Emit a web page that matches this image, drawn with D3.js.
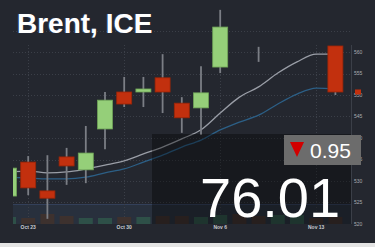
<!doctype html>
<html>
<head>
<meta charset="utf-8">
<script src="https://d3js.org/d3.v7.min.js"></script>
<style>
  body { margin: 0; background: #24272f; }
  svg { display: block; }
</style>
</head>
<body>
<svg id="chart" width="375" height="247"></svg>
<script>

// trading days shown (Oct 20 .. Nov 14)
var dates = ["10-20","10-23","10-24","10-25","10-26","10-27","10-30","10-31","11-01","11-02",
             "11-03","11-06","11-07","11-08","11-09","11-10","11-13","11-14"];
var tickDates = ["10-23","10-30","11-06","11-13"];
var tickNames = ["Oct 23","Oct 30","Nov 6","Nov 13"];

// candles, null = not drawn in the picture
var openV  = [526.5,534.4,527.7,535.6,532.6,542.1,550.7,550.7,554.0,548.1,547.0,556.5,null,559.3,null,null,null,561.4];
var highV  = [533.0,535.8,536.0,537.7,542.8,550.7,554.2,554.2,559.5,549.5,556.7,569.8,null,561.2,null,null,null,561.4];
var lowV   = [526.5,526.7,521.2,529.1,529.5,537.4,547.2,547.2,545.8,541.2,540.7,555.1,null,557.7,null,null,null,550.0];
var closeV = [533.0,528.4,526.0,533.5,536.5,548.8,547.9,551.4,550.7,544.7,550.5,565.8,null,559.3,null,null,null,550.7];

// two moving averages
var maSlow = [532.1,532.3,531.9,532.1,532.8,533.7,534.7,536.3,537.9,539.8,541.9,545.8,549.5,551.9,555.1,557.7,559.5,559.5];
var maFast = [530.9,530.7,530.5,530.5,530.9,531.9,532.8,534.4,536.0,537.9,539.5,541.9,543.7,545.3,547.9,550.2,551.6,551.4];

// volume and its up/down flag
var volume = [7,6,10,8,6,6,7,7,8,8,7,9,10,8,9,9,6,7];
var volUp  = [1,0,0,0,1,1,0,1,0,0,1,1,0,0,1,1,0,0];

var yTicks = [520,525,530,535,540,545,550,555,560,565];
var yLabels = ["520","525","530","535","540","545","550","555","560"];

var title = "Brent, ICE";
var lastPrice = "76.01";
var change = "0.95";

var svg = d3.select("#chart");
var W = 375, H = 247;
var pLeft = 13, pRight = 351, pTop = 0, pBottom = 224;

svg.append("rect").attr("width", W).attr("height", H).attr("fill", "#24272f");

var x = d3.scalePoint().domain(dates).range([9, 335.4]);
var y = d3.scaleLinear().domain([520, 565]).range([224, 30.5]);
var yv = d3.scaleLinear().domain([0, 12]).range([224, 212]);
var bodyW = 15;

svg.append("clipPath").attr("id", "plot")
   .append("rect").attr("x", pLeft).attr("y", pTop).attr("width", pRight - pLeft).attr("height", pBottom - pTop);

// volume pane band
svg.append("rect").attr("x", pLeft).attr("y", 204).attr("width", pRight - pLeft).attr("height", 20)
   .attr("fill", "#28303d");
svg.append("line").attr("x1", pLeft).attr("x2", pRight).attr("y1", 204.5).attr("y2", 204.5)
   .attr("stroke", "#33405a").attr("stroke-width", 1);

// grid
var grid = svg.append("g").attr("stroke", "#3b3f48").attr("stroke-width", 1).attr("stroke-dasharray", "1,2");
grid.selectAll(".hg").data(yTicks.slice(1)).enter().append("line")
    .attr("x1", pLeft).attr("x2", pRight)
    .attr("y1", function(d) { return Math.round(y(d)) + 0.5; })
    .attr("y2", function(d) { return Math.round(y(d)) + 0.5; });
grid.selectAll(".vg").data(tickDates).enter().append("line")
    .attr("x1", function(d) { return Math.round(x(d)) + 0.5; })
    .attr("x2", function(d) { return Math.round(x(d)) + 0.5; })
    .attr("y1", 45).attr("y2", pBottom);

var plot = svg.append("g").attr("clip-path", "url(#plot)");

// volume bars
plot.selectAll(".vol").data(dates).enter().append("rect")
    .attr("x", function(d) { return x(d) - bodyW / 2 + 0.5; })
    .attr("width", bodyW - 1)
    .attr("y", function(d, i) { return yv(volume[i]); })
    .attr("height", function(d, i) { return yv(0) - yv(volume[i]); })
    .attr("fill", function(d, i) { return volUp[i] ? "#2e5048" : "#3d312e"; });

// moving averages
var lineGen = function(vals) {
  return d3.line()
    .x(function(d, i) { return x(dates[i]); })
    .y(function(d) { return y(d); })
    .curve(d3.curveMonotoneX)(vals);
};
plot.append("path").attr("d", lineGen(maFast)).attr("fill", "none")
    .attr("stroke", "#2c5f86").attr("stroke-width", 1.3);
plot.append("path").attr("d", lineGen(maSlow)).attr("fill", "none")
    .attr("stroke", "#9a9ea7").attr("stroke-width", 1.3);

// candles
var idx = d3.range(dates.length).filter(function(i) { return openV[i] != null; });
var candle = plot.selectAll(".candle").data(idx).enter().append("g");
candle.append("line")
    .attr("x1", function(i) { return x(dates[i]); })
    .attr("x2", function(i) { return x(dates[i]); })
    .attr("y1", function(i) { return y(highV[i]); })
    .attr("y2", function(i) { return y(lowV[i]); })
    .attr("stroke", "#7b7e85").attr("stroke-width", 1.8);
candle.append("rect")
    .attr("x", function(i) { return x(dates[i]) - bodyW / 2; })
    .attr("width", bodyW)
    .attr("y", function(i) { return y(Math.max(openV[i], closeV[i])); })
    .attr("height", function(i) { return Math.abs(y(openV[i]) - y(closeV[i])); })
    .attr("fill", function(i) { return closeV[i] >= openV[i] ? "#95cf79" : "#c2300e"; })
    .attr("stroke", function(i) { return closeV[i] >= openV[i] ? "#6fa458" : "#9a2508"; })
    .attr("stroke-width", 0.8);

// y axis
svg.append("line").attr("x1", pRight + 0.5).attr("x2", pRight + 0.5).attr("y1", 45).attr("y2", pBottom)
   .attr("stroke", "#3b3f48");
svg.selectAll(".ylab").data(yLabels).enter().append("text")
   .attr("x", pRight + 3).attr("y", function(d) { return y(+d) + 1.8; })
   .attr("font-family", "Liberation Sans, Arial, sans-serif").attr("font-size", 5)
   .attr("fill", "#a9acb2")
   .text(function(d) { return d; });

// last price marker
svg.append("rect").attr("x", pRight + 4).attr("y", y(closeV[17]) - 2.5).attr("width", 6).attr("height", 5)
   .attr("fill", "#c2300e");

// x axis labels
svg.selectAll(".xlab").data(tickDates).enter().append("text")
   .attr("x", function(d) { return x(d); }).attr("y", 229)
   .attr("text-anchor", "middle")
   .attr("font-family", "Liberation Sans, Arial, sans-serif").attr("font-size", 5)
   .attr("font-weight", "bold").attr("fill", "#c9ccd2")
   .text(function(d, i) { return tickNames[i]; });

// dark overlay box
svg.append("rect").attr("x", 152).attr("y", 134).attr("width", pRight - 152).attr("height", pBottom - 134)
   .attr("fill", "#000").attr("fill-opacity", 0.35);

// change badge
svg.append("rect").attr("x", 284).attr("y", 135).attr("width", 77).attr("height", 30).attr("fill", "#6c6c6c");
svg.append("path").attr("d", "M290,142L304,142L297,157Z").attr("fill", "#d20000");
svg.append("text").attr("x", 310).attr("y", 158)
   .attr("font-family", "Liberation Sans, Arial, sans-serif").attr("font-size", 21)
   .attr("fill", "#ffffff").text(change);

// last price
svg.append("text").attr("x", 200).attr("y", 217)
   .attr("font-family", "Liberation Sans, Arial, sans-serif").attr("font-size", 56)
   .attr("fill", "#ffffff").text(lastPrice);

// title
svg.append("text").attr("x", 17).attr("y", 33)
   .attr("font-family", "Liberation Sans, Arial, sans-serif").attr("font-size", 28)
   .attr("font-weight", "bold").attr("fill", "#ffffff")
   .style("text-shadow", "-1px 0 1px rgba(60,90,160,0.6)")
   .text(title);

// bottom strip
svg.append("rect").attr("x", 0).attr("y", 243).attr("width", W).attr("height", 4).attr("fill", "#e4e4e4");

</script>
</body>
</html>
